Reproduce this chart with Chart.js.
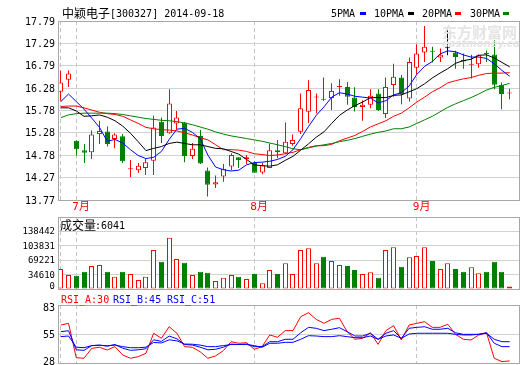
<!DOCTYPE html>
<html>
<head>
<meta charset="utf-8">
<title>中颖电子 300327</title>
<script src="https://cdn.jsdelivr.net/npm/chart.js@4.4.1/dist/chart.umd.min.js"></script>
<style>
html,body{margin:0;padding:0;background:#fff;}
#wrap{position:relative;width:520px;height:365px;overflow:hidden;background:#fff;}
#wrap canvas{position:absolute;left:0;}
.tx{position:absolute;white-space:nowrap;font-family:'DejaVu Sans Mono','Liberation Mono',monospace;font-size:10px;line-height:10px;color:#000;}
.cjk{position:absolute;white-space:nowrap;font-family:'Noto Sans CJK SC',sans-serif;font-size:12px;line-height:12px;color:#000;}
.dash{position:absolute;width:6px;height:3px;}
.wm{position:absolute;white-space:nowrap;color:#e4e4e4;font-weight:bold;}
</style>
</head>
<body>
<div id="wrap">
<canvas id="cPrice" width="520" height="216" style="top:0px"></canvas>
<canvas id="cVol" width="520" height="75" style="top:216px"></canvas>
<canvas id="cRsi" width="520" height="74" style="top:291px"></canvas>

<div class="wm" style="left:442px;top:24px;font-family:'Noto Sans CJK SC';font-size:15px;line-height:15px;">东方财富网</div>
<div class="wm" style="left:442px;top:39px;font-family:'DejaVu Sans';font-style:italic;font-size:10px;line-height:10px;">eastmoney.com</div>

<div class="cjk" style="left:62px;top:7px">中颖电子</div>
<div class="tx" style="left:110px;top:9px">[300327] 2014-09-18</div>

<div class="tx" style="left:331px;top:9px">5PMA</div><div class="dash" style="left:360px;top:12px;background:#0000ff"></div>
<div class="tx" style="left:374px;top:9px">10PMA</div><div class="dash" style="left:408px;top:12px;background:#000000"></div>
<div class="tx" style="left:422px;top:9px">20PMA</div><div class="dash" style="left:455px;top:12px;background:#ff0000"></div>
<div class="tx" style="left:470px;top:9px">30PMA</div><div class="dash" style="left:503px;top:12px;background:#008000"></div>

<div class="cjk" style="left:60px;top:219px">成交量</div>
<div class="tx" style="left:95px;top:221px">:6041</div>

<div class="tx" style="left:61px;top:295px;color:#ff0000">RSI_A:30</div>
<div class="tx" style="left:113px;top:295px;color:#0000ff">RSI_B:45</div>
<div class="tx" style="left:167px;top:295px;color:#0000ff">RSI_C:51</div>
</div>

<script>
// ---------------- data ----------------
const dates = ['06-27','06-30','07-01','07-02','07-03','07-04','07-07','07-08','07-09','07-10',
 '07-11','07-14','07-15','07-16','07-17','07-18','07-21','07-22','07-23','07-24',
 '07-25','07-28','07-29','07-30','07-31','08-01','08-04','08-05','08-06','08-07',
 '08-08','08-11','08-12','08-13','08-14','08-15','08-18','08-19','08-20','08-21',
 '08-22','08-25','08-26','08-27','08-28','08-29','09-01','09-02','09-03','09-04',
 '09-05','09-09','09-10','09-11','09-12','09-15','09-16','09-17','09-18'];

const open = [16.20,16.47,15.10,14.89,14.84,15.25,15.31,15.14,15.20,14.46,
 14.44,14.49,14.65,15.53,15.27,15.49,15.51,14.76,15.21,14.43,
 14.12,14.30,14.52,14.73,14.69,14.60,14.39,14.49,14.89,14.82,
 15.03,15.30,15.75,16.07,16.04,16.06,16.31,16.31,16.07,15.86,
 15.91,16.16,15.70,16.35,16.52,16.05,16.74,17.08,17.11,16.97,
 17.18,17.08,16.92,16.81,16.82,17.06,17.04,16.36,16.16];
const high = [16.67,16.68,15.11,15.03,15.33,15.55,15.42,15.27,15.25,14.67,
 14.60,14.69,15.66,15.62,16.26,15.77,15.52,15.05,15.34,14.50,
 14.32,14.58,14.82,14.73,14.78,14.64,14.60,15.04,15.12,15.51,
 15.24,16.16,16.46,16.16,16.52,16.39,16.48,16.42,16.30,16.01,
 16.26,16.26,16.52,16.83,16.58,16.97,17.27,17.68,17.21,17.17,
 17.60,17.12,17.06,17.03,17.04,17.13,17.36,16.41,16.27];
const low = [16.00,16.31,14.77,14.60,14.69,15.03,14.97,14.93,14.60,14.28,
 14.38,14.33,14.33,15.05,15.26,15.36,14.62,14.69,14.58,13.85,
 14.04,14.18,14.44,14.49,14.58,14.38,14.35,14.49,14.71,14.80,
 14.99,15.25,15.50,15.72,16.00,15.79,16.11,15.91,15.76,15.55,
 15.83,15.77,15.61,16.09,15.92,15.98,16.59,16.87,16.86,16.87,
 17.02,16.72,16.72,16.50,16.74,16.87,16.26,15.81,16.03];
const close = [16.41,16.61,14.91,14.83,15.24,15.32,15.03,15.24,14.64,14.47,
 14.54,14.62,15.40,15.21,15.94,15.62,14.76,14.92,14.59,14.11,
 14.17,14.47,14.78,14.67,14.73,14.38,14.55,14.89,14.84,15.08,
 15.12,15.83,16.24,16.09,16.02,16.22,16.33,16.09,15.86,15.91,
 16.11,15.79,16.31,16.54,16.15,16.87,17.06,17.21,17.10,17.03,
 17.18,16.98,16.88,16.82,17.02,17.05,16.36,16.15,16.17];

const ma5 = [15.98,16.15,15.98,15.81,15.61,15.40,15.09,15.13,15.05,14.90,
 14.77,14.70,14.73,14.86,15.13,15.36,15.38,15.29,15.15,14.78,
 14.51,14.45,14.42,14.44,14.56,14.61,14.62,14.64,14.68,14.75,
 14.90,15.15,15.42,15.67,15.86,16.08,16.18,16.15,16.10,16.08,
 16.06,15.95,16.00,16.13,16.18,16.33,16.59,16.77,16.88,17.05,
 17.12,17.10,17.03,16.98,16.98,16.95,16.83,16.68,16.55];
const ma10 = [15.84,15.84,15.77,15.65,15.66,15.68,15.63,15.55,15.43,15.27,
 15.08,14.88,14.93,14.97,15.04,15.07,15.04,15.01,15.01,14.97,
 14.93,14.92,14.86,14.80,14.68,14.56,14.54,14.53,14.56,14.66,
 14.75,14.89,15.03,15.18,15.30,15.49,15.67,15.79,15.89,15.97,
 16.07,16.07,16.07,16.12,16.13,16.20,16.27,16.38,16.51,16.62,
 16.72,16.84,16.90,16.93,17.02,17.03,16.96,16.86,16.76];
const ma20 = [15.87,15.88,15.88,15.84,15.79,15.74,15.71,15.69,15.65,15.57,
 15.49,15.40,15.37,15.35,15.34,15.32,15.28,15.23,15.17,15.12,
 15.01,14.90,14.90,14.89,14.86,14.81,14.79,14.77,14.78,14.81,
 14.84,14.90,14.95,14.99,14.99,15.02,15.10,15.16,15.22,15.31,
 15.41,15.48,15.55,15.65,15.72,15.84,15.97,16.08,16.20,16.29,
 16.40,16.45,16.49,16.52,16.57,16.61,16.62,16.62,16.63];
const ma30 = [15.62,15.68,15.71,15.72,15.72,15.72,15.72,15.71,15.69,15.66,
 15.63,15.60,15.58,15.56,15.55,15.53,15.50,15.46,15.41,15.36,
 15.30,15.25,15.21,15.18,15.15,15.12,15.09,15.05,15.01,14.97,
 14.92,14.90,14.94,14.98,15.01,15.04,15.08,15.11,15.15,15.20,
 15.25,15.29,15.32,15.37,15.37,15.41,15.49,15.57,15.65,15.75,
 15.85,15.93,16.00,16.07,16.15,16.24,16.30,16.34,16.39];

const volume = [47740,33420,31750,41300,54900,57290,41300,29360,41300,35800,
 21480,29360,93090,65170,122450,71610,62780,33420,41300,38910,
 19100,26970,33420,29360,23870,35800,13600,45350,35800,61350,
 35800,93090,97150,61350,77100,66840,57290,54900,45350,35800,
 39860,26970,93090,99540,53230,75670,78770,99540,66840,47740,
 61350,47740,41300,51800,37480,41300,65170,41300,6041];

const rsiA = [64.0,65.6,33.0,32.5,41.9,42.9,40.3,43.5,35.6,32.5,
 34.0,37.2,56.2,51.4,62.4,56.2,43.5,42.9,38.7,32.5,
 34.7,39.7,48.2,46.7,47.3,41.0,43.5,54.6,52.4,58.7,
 58.7,71.9,75.7,69.4,65.6,69.4,70.4,57.7,50.5,51.4,
 56.7,45.7,58.7,63.4,49.8,64.0,65.6,67.2,61.8,61.8,
 64.7,55.2,50.5,49.8,54.6,56.7,32.5,29.3,30.0];
const rsiB = [57.7,58.6,40.5,40.0,44.5,45.0,44.0,45.5,42.0,40.0,
 40.5,41.5,50.0,48.5,53.5,51.0,45.5,45.0,43.0,40.5,
 41.0,43.0,46.0,45.5,46.0,43.5,43.5,48.2,48.2,50.5,
 50.5,56.7,61.8,60.9,58.7,60.0,61.5,57.7,53.6,53.6,
 56.2,50.5,56.2,58.7,51.4,60.9,61.8,62.4,60.0,60.0,
 60.9,56.7,55.2,55.2,55.2,56.7,46.7,43.5,43.5];
const rsiC = [53.0,53.6,43.0,42.5,44.5,44.8,44.3,45.0,43.5,42.5,
 42.5,43.0,47.5,47.0,50.0,49.0,46.0,45.8,45.0,43.5,
 43.5,44.5,45.5,45.5,45.5,44.5,42.9,46.7,46.7,47.6,
 47.6,50.5,53.9,53.6,53.0,53.0,53.9,53.0,52.0,52.0,
 53.6,50.5,53.6,54.6,51.4,55.5,56.2,56.2,56.2,56.2,
 56.2,55.2,54.6,54.6,55.2,56.2,50.5,48.2,48.2];

const priceTicks = [13.77,14.2725,14.775,15.2775,15.78,16.2825,16.785,17.2875,17.79];
const priceTickLabels = ['13.77','14.27','14.78','15.28','15.78','16.28','16.79','17.29','17.79'];
const volTicks = [0,34610.5,69221,103831.5,138442];
const volTickLabels = ['0','34610','69221','103831','138442'];
const rsiTicks = [28,55,83];
const rsiTickLabels = ['28','55','83'];
const monthTickIdx = [0,2,25,46];
const monthTickLabels = ['','7月','8月','9月'];

// ---------------- styling ----------------
const RED='#ff0000', GREEN='#008000', BLACK='#000000', BLUE='#0000ff';
const X_MIN=-0.36, X_MAX=59.2;
const MONO="'DejaVu Sans Mono','Liberation Mono',monospace";

const dirOf = i => close[i]>open[i]?1:(close[i]<open[i]?-1:0);
const candleColor = dates.map((d,i)=> dirOf(i)>0?RED:(dirOf(i)<0?GREEN:BLACK));
const bodyFill = dates.map((d,i)=> dirOf(i)>0?'#ffffff':(dirOf(i)<0?GREEN:BLACK));
const volColor = dates.map((d,i)=> dirOf(i)>=0?RED:GREEN);
const volFill = dates.map((d,i)=> dirOf(i)>=0?'#ffffff':GREEN);

// snap bars to whole pixels (positions still come from the chart's scales)
const snap = {id:'snap', afterDatasetsUpdate(chart){
  chart.data.datasets.forEach((ds,di)=>{
    const meta = chart.getDatasetMeta(di);
    if (meta.type!=='bar') return;
    meta.data.forEach(el=>{ const w=el.width; el.x = Math.round(el.x - w/2) + w/2; });
  });
}};
const frame = {id:'frame', afterDatasetsDraw(chart){
  const {ctx, chartArea:a} = chart;
  ctx.save(); ctx.strokeStyle='#a8a8a8'; ctx.lineWidth=1;
  ctx.strokeRect(Math.round(a.left)+0.5, Math.round(a.top)+0.5, Math.round(a.right-a.left), Math.round(a.bottom-a.top));
  ctx.restore();
}};
const yLabels = {id:'yLabels', afterDraw(chart, args, o){
  const s = chart.scales.y, a = chart.chartArea, ctx = chart.ctx;
  ctx.save(); ctx.font = (o.size||10)+'px '+MONO; ctx.fillStyle='#000'; ctx.textAlign='right'; ctx.textBaseline='middle';
  o.values.forEach((v,i)=>{
    let y = s.getPixelForValue(v);
    y = Math.max(a.top + (o.padTop||0), Math.min(a.bottom - (o.padBottom||0), y));
    ctx.fillText(o.labels[i], a.left-3, y+1);
  });
  ctx.restore();
}};

function makeOptions(pad, yMin, yMax, yTicks, yLabs, showX, lp){
  return {
    responsive:false, animation:false, events:[], devicePixelRatio:1,
    layout:{padding:pad},
    plugins:{legend:{display:false}, tooltip:{enabled:false},
      yLabels:Object.assign({values:yTicks, labels:yLabs}, lp)},
    scales:{
      x:{type:'linear', min:X_MIN, max:X_MAX, offset:false, grace:0,
        afterBuildTicks(s){ s.ticks = monthTickIdx.map(v=>({value:v})); },
        afterFit(s){ s.height = showX?15:0; },
        ticks:{display:showX, autoSkip:false, maxRotation:0, minRotation:0, align:'start', labelOffset:-4, padding:1,
          color:RED, font:{family:MONO+",'Noto Sans CJK SC'", size:11}, callback:(v,i)=>monthTickLabels[i]},
        grid:{color:'#c4c4c4', lineWidth:1, drawTicks:false, offset:false},
        border:{display:false, dash:[4,3]}},
      y:{type:'linear', position:'left', min:yMin, max:yMax,
        afterBuildTicks(s){ s.ticks = yTicks.map(v=>({value:v})); },
        afterFit(s){ s.width = 58; },
        ticks:{display:false},
        grid:{color:'#d2d2d2', lineWidth:1, drawTicks:false},
        border:{display:false}}
    }
  };
}

const xy = arr => arr.map((v,i)=>({x:i, y:v}));
const lineDs = (arr,color,order)=>({type:'line', data:xy(arr), borderColor:color, borderWidth:1, pointRadius:0, tension:0, fill:false, order});

// ---------------- price chart ----------------
new Chart(document.getElementById('cPrice'), {
  type:'bar',
  data:{datasets:[
    {type:'bar', data:dates.map((d,i)=>({x:i, y:[low[i], high[i]]})), backgroundColor:candleColor, borderWidth:0,
     barThickness:1, grouped:false, order:3, inflateAmount:0},
    {type:'bar', data:dates.map((d,i)=>({x:i, y:[open[i], close[i]]})), backgroundColor:bodyFill, borderColor:candleColor,
     borderWidth:1, borderSkipped:false, barThickness:5, minBarLength:1, grouped:false, order:2, inflateAmount:0},
    lineDs(ma30, GREEN, 1), lineDs(ma20, RED, 1), lineDs(ma10, BLACK, 0), lineDs(ma5, BLUE, 0)
  ]},
  options: makeOptions({top:21, right:1, bottom:1, left:0}, 13.77, 17.79, priceTicks, priceTickLabels, true, {}),
  plugins:[snap, frame, yLabels]
});

// ---------------- volume chart ----------------
new Chart(document.getElementById('cVol'), {
  type:'bar',
  data:{datasets:[
    {type:'bar', data:xy(volume), backgroundColor:volFill, borderColor:volColor, borderWidth:1, borderSkipped:false,
     barThickness:5, grouped:false, inflateAmount:0}
  ]},
  options: makeOptions({top:1, right:1, bottom:2, left:0}, 0, 171860, volTicks, volTickLabels, false, {padBottom:3, size:9}),
  plugins:[snap, frame, yLabels]
});

// ---------------- RSI chart ----------------
new Chart(document.getElementById('cRsi'), {
  type:'line',
  data:{datasets:[ lineDs(rsiA, RED, 2), lineDs(rsiC, BLUE, 1), lineDs(rsiB, BLUE, 0) ]},
  options: makeOptions({top:14, right:1, bottom:2, left:0}, 28, 83, rsiTicks, rsiTickLabels, false, {padTop:2, padBottom:2}),
  plugins:[frame, yLabels]
});
</script>
</body>
</html>
